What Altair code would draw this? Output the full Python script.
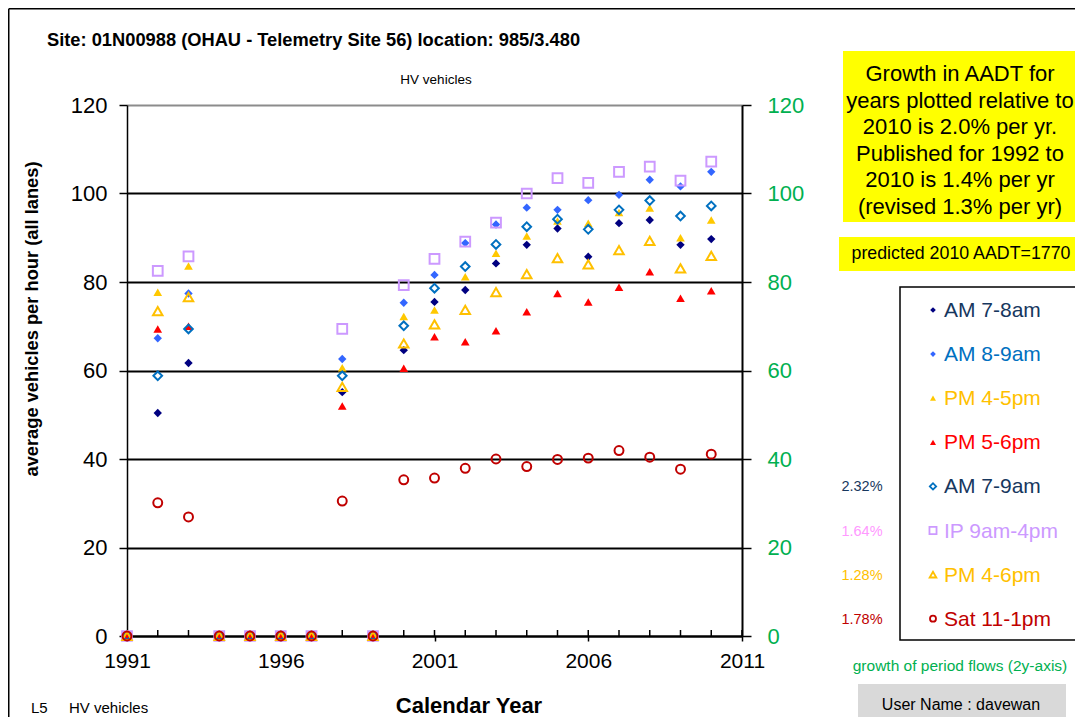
import altair as alt
import pandas as pd

# ---------------- data ----------------
years = list(range(1991, 2011))
series_names = ["AM 7-8am", "AM 8-9am", "PM 4-5pm", "PM 5-6pm",
                "AM 7-9am", "IP 9am-4pm", "PM 4-6pm", "Sat 11-1pm"]

am_7_8 = [0, 50.4, 61.7, 0, 0, 0, 0, 55.1, 0, 64.6, 75.5, 78.2, 84.2, 88.4, 92.1, 85.7, 93.3, 94.0, 88.4, 89.7]
am_8_9 = [0, 67.3, 77.4, 0, 0, 0, 0, 62.6, 0, 75.3, 81.6, 88.8, 93.0, 96.8, 96.3, 98.5, 99.7, 103.1, 101.6, 104.9]
pm_4_5 = [0, 77.7, 83.6, 0, 0, 0, 0, 60.6, 0, 72.2, 73.7, 81.2, 86.5, 90.4, 93.8, 93.3, 95.7, 96.7, 90.0, 94.0]
pm_5_6 = [0, 69.4, 70.0, 0, 0, 0, 0, 52.0, 0, 60.5, 67.6, 66.5, 69.0, 73.3, 77.4, 75.5, 78.8, 82.3, 76.3, 78.0]
am_7_9 = [0, 58.8, 69.4, 0, 0, 0, 0, 58.8, 0, 70.1, 78.6, 83.5, 88.5, 92.5, 94.2, 91.9, 96.3, 98.4, 94.9, 97.2]
ip_9_4 = [0, 82.5, 85.8, 0, 0, 0, 0, 69.4, 0, 79.3, 85.2, 89.1, 93.4, 100.0, 103.5, 102.4, 104.9, 106.1, 102.9, 107.2]
pm_4_6 = [0, 73.4, 76.6, 0, 0, 0, 0, 56.3, 0, 66.1, 70.4, 73.7, 77.7, 81.8, 85.4, 84.0, 87.2, 89.3, 83.1, 85.9]
sat_11_1 = [0, 30.1, 26.9, 0, 0, 0, 0, 30.5, 0, 35.3, 35.7, 37.9, 40.0, 38.3, 39.9, 40.2, 41.9, 40.4, 37.7, 41.1]
series_values = [am_7_8, am_8_9, pm_4_5, pm_5_6, am_7_9, ip_9_4, pm_4_6, sat_11_1]

growth_labels = ["", "", "", "", "2.32%", "1.64%", "1.28%", "1.78%"]

y_ticks = [0, 20, 40, 60, 80, 100, 120]
x_ticks = [1991, 1996, 2001, 2006, 2011]
minor_years = list(range(1991, 2012))

title_text = "Site: 01N00988 (OHAU - Telemetry Site 56) location: 985/3.480"
subtitle_text = "HV vehicles"
y_title = "average vehicles per hour (all lanes)"
x_title = "Calendar Year"
footer_code = "L5"
footer_text = "HV vehicles"
growth_box_lines = ["Growth in AADT for", "years plotted relative to", "2010 is 2.0% per yr.",
                    "Published for 1992 to", "2010 is 1.4% per yr", "(revised 1.3% per yr)"]
predicted_text = "predicted 2010 AADT=1770"
growth_note = "growth of period flows (2y-axis)"
user_text = "User Name :  davewan"

rows = []
for name, vals in zip(series_names, series_values):
    for yr, v in zip(years, vals):
        rows.append({"series": name, "year": yr, "value": v})
df = pd.DataFrame(rows)
one = pd.DataFrame({"a": [0]})

# ---------------- styles ----------------
FONT = "Liberation Sans"
STYLE = {
    "AM 7-8am":   dict(shape="diamond", filled=True, color="#000080", size=70, lsize=32, label="#17375E", pct="#17375E"),
    "AM 8-9am":   dict(shape="diamond", filled=True, color="#3366FF", size=70, lsize=32, label="#0070C0", pct="#0070C0"),
    "PM 4-5pm":   dict(shape="triangle-up", filled=True, color="#FFC800", size=75, lsize=36, label="#FFC000", pct="#FFC000"),
    "PM 5-6pm":   dict(shape="triangle-up", filled=True, color="#FF0000", size=75, lsize=36, label="#FF0000", pct="#FF0000"),
    "AM 7-9am":   dict(shape="diamond", filled=False, color="#0070C0", size=75, lsize=40, label="#17375E", pct="#17375E"),
    "IP 9am-4pm": dict(shape="square", filled=False, color="#CC99FF", size=95, lsize=50, label="#CC99FF", pct="#FF99FF"),
    "PM 4-6pm":   dict(shape="triangle-up", filled=False, color="#FFC000", size=90, lsize=45, label="#FFC000", pct="#FFC000"),
    "Sat 11-1pm": dict(shape="circle", filled=False, color="#C00000", size=80, lsize=36, label="#C00000", pct="#C00000"),
}

W, H = 615, 531
OX, OY = 127, 105          # page position of the plot origin
SVG_W, SVG_H = 1067, 709   # whole drawing (page minus 8px margin)


def px(x):
    return x - OX


def py(y):
    return y - OY


X = alt.X("year:Q", scale=alt.Scale(domain=[1991, 2011], nice=False, zero=False),
          axis=alt.Axis(values=x_ticks, format="d", title=None, grid=False, labelFlush=False,
                        labelFontSize=21, labelColor="black", labelPadding=9, tickSize=5,
                        tickColor="black", tickWidth=1.5, domainColor="black", domainWidth=2))

Y_LEFT = alt.Y("value:Q", scale=alt.Scale(domain=[0, 120], nice=False),
               axis=alt.Axis(values=y_ticks, title=None, grid=True,
                             gridColor={"condition": {"test": "datum.value == 120", "value": "#8c8c8c"},
                                        "value": "#000000"},
                             gridWidth=2, labelFontSize=22, labelColor="black", labelPadding=12,
                             tickSize=8, tickColor="black", tickWidth=1.5,
                             domainColor="black", domainWidth=1.5))

Y_RIGHT = alt.Y("value:Q", scale=alt.Scale(domain=[0, 120], nice=False),
                axis=alt.Axis(values=y_ticks, title=None, grid=False, orient="right",
                              labelFontSize=22, labelColor="#00B050", labelPadding=16,
                              tickSize=9, tickColor="black", tickWidth=1.5,
                              domainColor="black", domainWidth=2))

minor = alt.Chart(pd.DataFrame({"year": minor_years})).mark_rule(color="black", strokeWidth=1.5).encode(
    x=X, y=alt.value(H), y2=alt.value(H - 6))

series_layers = []
for name in series_names:
    s = STYLE[name]
    kw = dict(shape=s["shape"], filled=s["filled"], color=s["color"], size=s["size"], opacity=1)
    if not s["filled"]:
        kw["strokeWidth"] = 2
    series_layers.append(
        alt.Chart(df).transform_filter(alt.datum.series == name).mark_point(**kw).encode(x=X, y=Y_LEFT)
    )

left = alt.layer(minor, *series_layers)
right = alt.Chart(df).mark_point(opacity=0).encode(x=X, y=Y_RIGHT)


def txt(s, x, y, size, color="black", weight="normal", align="center", angle=None, baseline="middle"):
    kw = dict(text=s, fontSize=size, color=color, fontWeight=weight, align=align,
              baseline=baseline, font=FONT)
    if angle is not None:
        kw["angle"] = angle
    return alt.Chart(one).mark_text(**kw).encode(x=alt.value(px(x)), y=alt.value(py(y)))


def box(x1, y1, x2, y2, fill, stroke=None, sw=1.5):
    kw = dict(fill=fill)
    if stroke:
        kw.update(stroke=stroke, strokeWidth=sw)
    return alt.Chart(one).mark_rect(**kw).encode(
        x=alt.value(px(x1)), x2=alt.value(px(x2)), y=alt.value(py(y1)), y2=alt.value(py(y2)))


ann = []
# outer frame (left and top edges)
ann.append(alt.Chart(one).mark_rule(color="black", strokeWidth=1.5).encode(
    x=alt.value(px(8.75)), y=alt.value(py(8.75)), y2=alt.value(py(800))))
ann.append(alt.Chart(one).mark_rule(color="black", strokeWidth=1.5).encode(
    x=alt.value(px(8.75)), x2=alt.value(px(1200)), y=alt.value(py(8.75))))

ann.append(txt(title_text, 47, 41, 18.3, weight="bold", align="left"))
ann.append(txt(subtitle_text, 436, 80, 13.5))
ann.append(txt(y_title, 33, 319, 18.3, weight="bold", angle=270))
ann.append(txt(x_title, 469, 713, 22, weight="bold", baseline="alphabetic"))
ann.append(txt(footer_code, 31, 713, 15, align="left", baseline="alphabetic"))
ann.append(txt(footer_text, 69, 713, 15, align="left", baseline="alphabetic"))

# growth box
ann.append(box(843, 51, 1200, 222, "#FFFF00"))
for i, line in enumerate(growth_box_lines):
    ann.append(txt(line, 960, 74 + i * 26.6, 22))
ann.append(box(839, 237, 1200, 271, "#FFFF00"))
ann.append(txt(predicted_text, 961, 254, 17.8))

# legend
ann.append(box(900, 287, 1200, 640, "white", stroke="black", sw=1.5))
for i, name in enumerate(series_names):
    s = STYLE[name]
    yy = 311 + i * 44.1
    kw = dict(shape=s["shape"], filled=s["filled"], color=s["color"], size=s["lsize"], opacity=1)
    if not s["filled"]:
        kw["strokeWidth"] = 1.8
    ann.append(alt.Chart(one).mark_point(**kw).encode(x=alt.value(px(933)), y=alt.value(py(yy - 1))))
    ann.append(txt(name, 944, yy, 21, color=s["label"], align="left"))
    if growth_labels[i]:
        ann.append(txt(growth_labels[i], 862, yy, 14.5, color=s["pct"]))

ann.append(txt(growth_note, 960, 666, 15.5, color="#00B050"))
ann.append(box(858, 684, 1066, 740, "#D9D9D9"))
ann.append(txt(user_text, 961, 705, 16))

chart = alt.layer(left, right, *ann).resolve_scale(y="independent").properties(
    width=W, height=H, autosize="none",
    padding={"left": OX - 8, "top": OY - 8, "right": SVG_W - (OX - 8) - W, "bottom": SVG_H - (OY - 8) - H},
    background="white",
).configure_view(stroke=None).configure_axis(labelFont=FONT).configure_text(font=FONT)

chart.save("out.html", embed_options={"renderer": "svg", "actions": False})
